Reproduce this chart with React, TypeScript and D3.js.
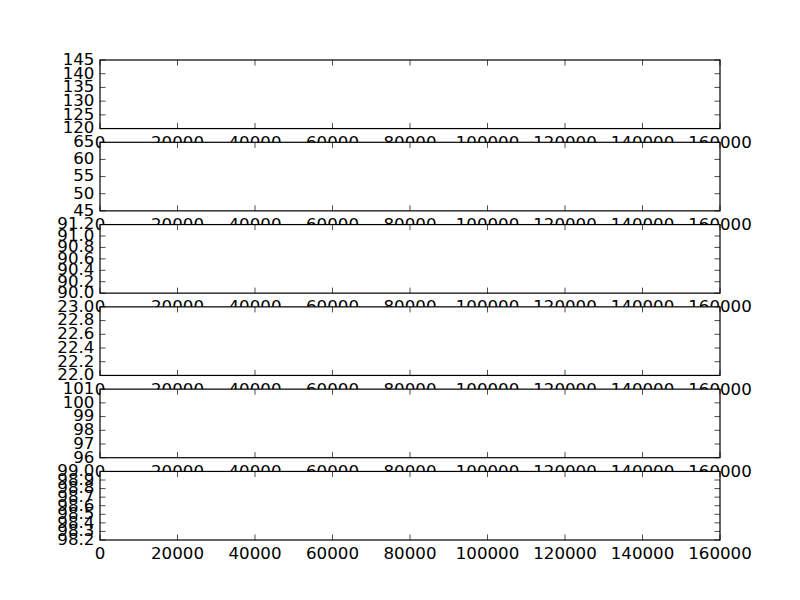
import { useRef, useEffect } from "react";
import * as d3 from "d3";

const X_DOMAIN: [number, number] = [0, 160000];
const X_TICKS = [0, 20000, 40000, 60000, 80000, 100000, 120000, 140000, 160000];

const Y_DOMAINS: [number, number][] = [
  [120, 145],
  [45, 65],
  [90, 91.2],
  [22, 23],
  [96, 101],
  [98.2, 99.0],
];
const Y_TICKS: number[][] = [
  [120, 125, 130, 135, 140, 145],
  [45, 50, 55, 60, 65],
  [90.0, 90.2, 90.4, 90.6, 90.8, 91.0, 91.2],
  [22.0, 22.2, 22.4, 22.6, 22.8, 23.0],
  [96, 97, 98, 99, 100, 101],
  [98.2, 98.3, 98.4, 98.5, 98.6, 98.7, 98.8, 98.9, 99.0],
];
const Y_FORMATS = ["d", "d", ".1f", ".1f", "d", ".1f"];

const W = 800;
const H = 600;
const FONT = "'DejaVu Sans', sans-serif";

export default function App() {
  const svgRef = useRef<SVGSVGElement>(null);

  useEffect(() => {
    if (!svgRef.current) return;
    const svg = d3.select(svgRef.current);
    svg.selectAll("*").remove();

    // matplotlib subplot grid: left .125, right .9, top .9, bottom .1, hspace .2
    const left = 100;
    const right = 720;
    const top = 60;
    const bottom = 540;
    const n = Y_DOMAINS.length;
    const ph = (bottom - top) / (n + (n - 1) * 0.2);
    const gap = ph * 0.2;
    const tickLen = 5.56;
    const pad = 5.56;

    const x = d3.scaleLinear().domain(X_DOMAIN).range([left, right]);

    svg.append("rect").attr("width", W).attr("height", H).attr("fill", "#fff");

    // each panel paints its own white background, so it hides the
    // bottom of the x labels of the panel above, like the original
    Y_DOMAINS.forEach((dom, i) => {
      const y0 = top + i * (ph + gap);
      const y1 = y0 + ph;
      const y = d3.scaleLinear().domain(dom).range([y1, y0]);
      const fmt = d3.format(Y_FORMATS[i]);
      const g = svg.append("g");

      g.append("rect")
        .attr("x", left)
        .attr("y", y0)
        .attr("width", right - left)
        .attr("height", ph)
        .attr("fill", "#fff");

      // x ticks, inward on bottom and top
      X_TICKS.forEach((t) => {
        const px = x(t);
        g.append("line")
          .attr("x1", px).attr("x2", px)
          .attr("y1", y1).attr("y2", y1 - tickLen)
          .attr("stroke", "#000").attr("stroke-width", 0.7);
        g.append("line")
          .attr("x1", px).attr("x2", px)
          .attr("y1", y0).attr("y2", y0 + tickLen)
          .attr("stroke", "#000").attr("stroke-width", 0.7);
      });

      // y ticks, inward on left and right
      Y_TICKS[i].forEach((t) => {
        const py = y(t);
        g.append("line")
          .attr("x1", left).attr("x2", left + tickLen)
          .attr("y1", py).attr("y2", py)
          .attr("stroke", "#000").attr("stroke-width", 0.7);
        g.append("line")
          .attr("x1", right).attr("x2", right - tickLen)
          .attr("y1", py).attr("y2", py)
          .attr("stroke", "#000").attr("stroke-width", 0.7);
      });

      g.append("rect")
        .attr("x", left)
        .attr("y", y0)
        .attr("width", right - left)
        .attr("height", ph)
        .attr("fill", "none")
        .attr("stroke", "#000")
        .attr("stroke-width", 1.2);

      g.selectAll(".xlab")
        .data(X_TICKS)
        .join("text")
        .attr("x", (d) => x(d))
        .attr("y", y1 + pad + 13.6)
        .attr("text-anchor", "middle")
        .attr("fill", "#000")
        .style("font-family", FONT)
        .style("font-size", "16.67px")
        .text((d) => String(d));

      g.selectAll(".ylab")
        .data(Y_TICKS[i])
        .join("text")
        .attr("x", left - pad)
        .attr("y", (d) => y(d))
        .attr("dy", "0.29em")
        .attr("text-anchor", "end")
        .attr("fill", "#000")
        .style("font-family", FONT)
        .style("font-size", "16.67px")
        .text((d) => fmt(d));
    });
  }, []);

  return (
    <svg
      ref={svgRef}
      width={W}
      height={H}
      style={{ position: "absolute", left: 0, top: 0, display: "block" }}
    />
  );
}
